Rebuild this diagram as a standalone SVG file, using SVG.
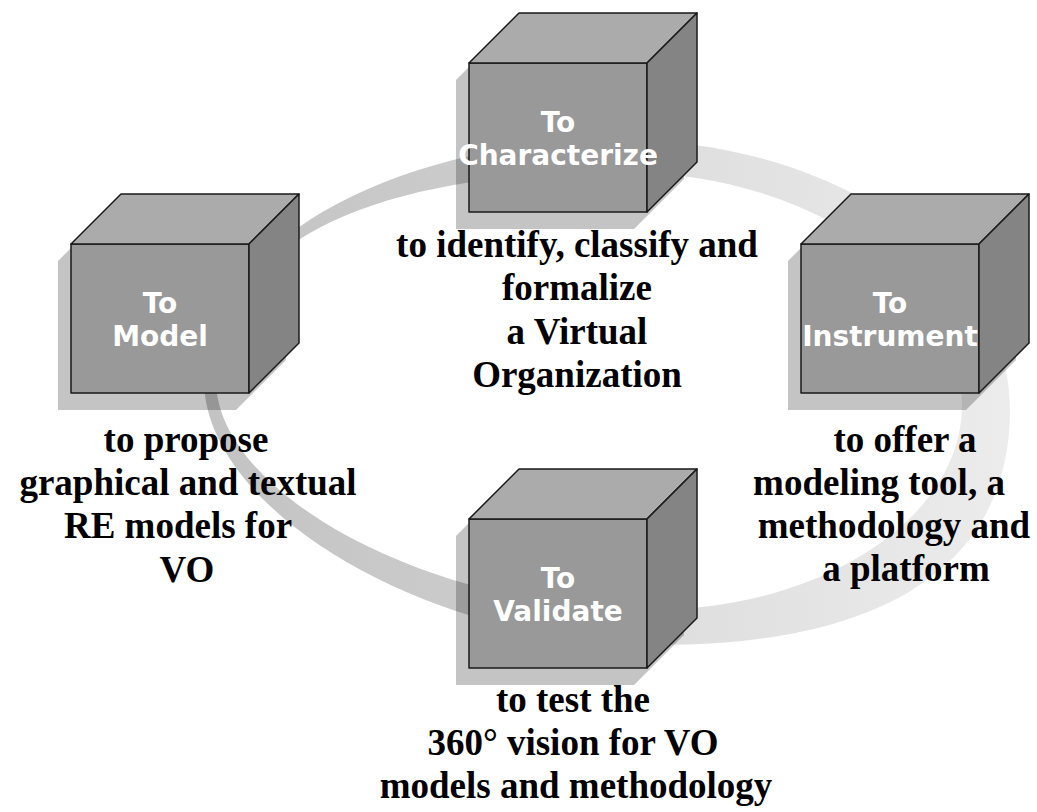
<svg xmlns="http://www.w3.org/2000/svg" xmlns:xlink="http://www.w3.org/1999/xlink" width="1037" height="812" viewBox="0 0 1037 812">
<style>
.shadow{fill:#000;fill-opacity:0.23}
.front{fill:#999999;stroke:#1a1a1a;stroke-width:1.5;stroke-linejoin:round}
.top{fill:#ababab;stroke:#1a1a1a;stroke-width:1.5;stroke-linejoin:round}
.side{fill:#848484;stroke:#1a1a1a;stroke-width:1.5;stroke-linejoin:round}
.lbl{font-family:"DejaVu Sans",Verdana,sans-serif;font-weight:bold;font-size:28px;fill:#ffffff;text-anchor:middle}
.desc{font-family:"Liberation Serif","Times New Roman",serif;font-weight:bold;font-size:37px;fill:#000;text-anchor:middle}
</style>
<defs>
<linearGradient id="ringGrad" gradientUnits="userSpaceOnUse" x1="204" y1="0" x2="1010" y2="0">
<stop offset="0" stop-color="#c3c3c3"/>
<stop offset="0.32" stop-color="#cbcbcb"/>
<stop offset="0.6" stop-color="#dfdfdf"/>
<stop offset="1" stop-color="#ececec"/>
</linearGradient>
<g id="cube">
<polygon class="shadow" points="-13,17 37,-33 215,-33 215,116 165,166 -13,166"/>
<polygon class="front" points="0,0 178,0 178,149 0,149"/>
<polygon class="top" points="0,0 50,-50 228,-50 178,0"/>
<polygon class="side" points="178,0 228,-50 228,99 178,149"/>
</g>
</defs>
<rect width="1037" height="812" fill="#ffffff"/>
<g id="connectors">
<path id="ring" fill="url(#ringGrad)" fill-rule="evenodd" d="M 1010,410 C 1010,563 887,645 660,645 C 432,645 204,512 204,380 C 204,247 390,140 620,140 C 835,140 1010,261 1010,410 Z M 962,405 C 962,518 822,610 650,610 C 433,610 216,495 216,380 C 216,250 360,172 620,172 C 809,172 962,278 962,405 Z"/>
</g>
<g id="node-characterize">
<use xlink:href="#cube" href="#cube" x="469" y="63"/>
<text class="lbl" x="558" y="132">To</text>
<text class="lbl" x="558" y="165">Characterize</text>
</g>
<g id="node-model">
<use xlink:href="#cube" href="#cube" x="71" y="244"/>
<text class="lbl" x="160" y="313">To</text>
<text class="lbl" x="160" y="346">Model</text>
</g>
<g id="node-instrument">
<use xlink:href="#cube" href="#cube" x="801" y="244"/>
<text class="lbl" x="890" y="313">To</text>
<text class="lbl" x="890" y="346">Instrument</text>
</g>
<g id="node-validate">
<use xlink:href="#cube" href="#cube" x="469" y="519"/>
<text class="lbl" x="558" y="588">To</text>
<text class="lbl" x="558" y="621">Validate</text>
</g>
<g id="desc-characterize">
<text class="desc" x="577" y="257">to identify, classify and</text>
<text class="desc" x="577" y="300">formalize</text>
<text class="desc" x="577" y="344">a Virtual</text>
<text class="desc" x="577" y="387">Organization</text>
</g>
<g id="desc-model">
<text class="desc" x="186" y="452">to propose</text>
<text class="desc" x="188" y="495">graphical and textual</text>
<text class="desc" x="178" y="538">RE models for</text>
<text class="desc" x="187" y="582">VO</text>
</g>
<g id="desc-instrument">
<text class="desc" x="905" y="452">to offer a</text>
<text class="desc" x="879" y="495">modeling tool, a</text>
<text class="desc" x="894" y="538">methodology and</text>
<text class="desc" x="906" y="581">a platform</text>
</g>
<g id="desc-validate">
<text class="desc" x="573" y="712">to test the</text>
<text class="desc" x="573" y="755">360° vision for VO</text>
<text class="desc" x="576" y="798">models and methodology</text>
</g>
</svg>
